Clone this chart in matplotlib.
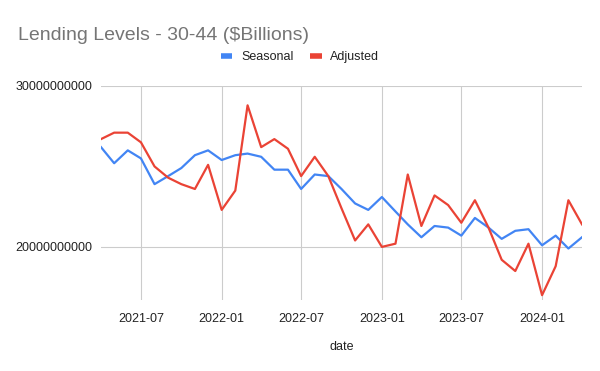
import matplotlib
matplotlib.use('Agg')
import matplotlib.pyplot as plt
import matplotlib.dates as mdates
from matplotlib.lines import Line2D
from matplotlib.ticker import FuncFormatter
import pandas as pd

plt.rcParams['font.family'] = ['Liberation Sans', 'DejaVu Sans']

# Monthly lending levels, in $ billions
months = pd.date_range('2021-04-01', periods=37, freq='MS')
seasonal = [26.2, 25.2, 26.0, 25.5, 23.9, 24.4, 24.9, 25.7, 26.0, 25.4, 25.7, 25.8,
            25.6, 24.8, 24.8, 23.6, 24.5, 24.4, 23.6, 22.7, 22.3, 23.1, 22.2, 21.4,
            20.6, 21.3, 21.2, 20.7, 21.8, 21.2, 20.5, 21.0, 21.1, 20.1, 20.7, 19.9, 20.6]
adjusted = [26.7, 27.1, 27.1, 26.5, 25.0, 24.3, 23.9, 23.6, 25.1, 22.3, 23.5, 28.8,
            26.2, 26.7, 26.1, 24.4, 25.6, 24.4, 22.4, 20.4, 21.4, 20.0, 20.2, 24.5,
            21.3, 23.2, 22.6, 21.5, 22.9, 21.2, 19.2, 18.5, 20.2, 17.0, 18.8, 22.9, 21.4]
series_names = ['Seasonal', 'Adjusted']
colors = ['#4285F4', '#EA4335']
y_ticks = [20e9, 30e9]

fig = plt.figure(figsize=(6, 3.71), dpi=100)
ax = fig.add_axes([101 / 600, 1 - 300 / 371, 481 / 600, 214 / 371])

for vals, name, c in zip([seasonal, adjusted], series_names, colors):
    ax.plot(months, [v * 1e9 for v in vals], color=c, lw=1.6, label=name, zorder=3)

ax.set_xlim(months[0], months[-1])
ax.set_ylim(16.7e9, 30e9)
ax.set_yticks(y_ticks)
ax.yaxis.set_major_formatter(FuncFormatter(lambda v, p: f'{v:.0f}'))
ax.xaxis.set_major_locator(mdates.MonthLocator(bymonth=[1, 7]))
ax.xaxis.set_major_formatter(mdates.DateFormatter('%Y-%m'))
ax.grid(True, color='#cccccc', lw=0.8, zorder=0)
for s in ax.spines.values():
    s.set_visible(False)
ax.tick_params(length=0, labelsize=9, colors='#222222')
ax.tick_params(axis='x', pad=9)
ax.tick_params(axis='y', pad=6)
ax.set_xlabel('date', fontsize=9, color='#222222', labelpad=12)

fig.text(18 / 600, 1 - 35 / 371, 'Lending Levels - 30-44 ($Billions)',
         fontsize=14, color='#757575', va='center', ha='left')

handles = [Line2D([], [], color=c, lw=4, solid_capstyle='butt') for c in colors]
fig.legend(handles, series_names, loc='center', bbox_to_anchor=(0.5, 1 - 57 / 371),
           ncol=2, frameon=False, fontsize=9, handlelength=0.95,
           handletextpad=0.7, columnspacing=1.3, labelcolor='#222222')

fig.savefig('out.png', dpi=100)
